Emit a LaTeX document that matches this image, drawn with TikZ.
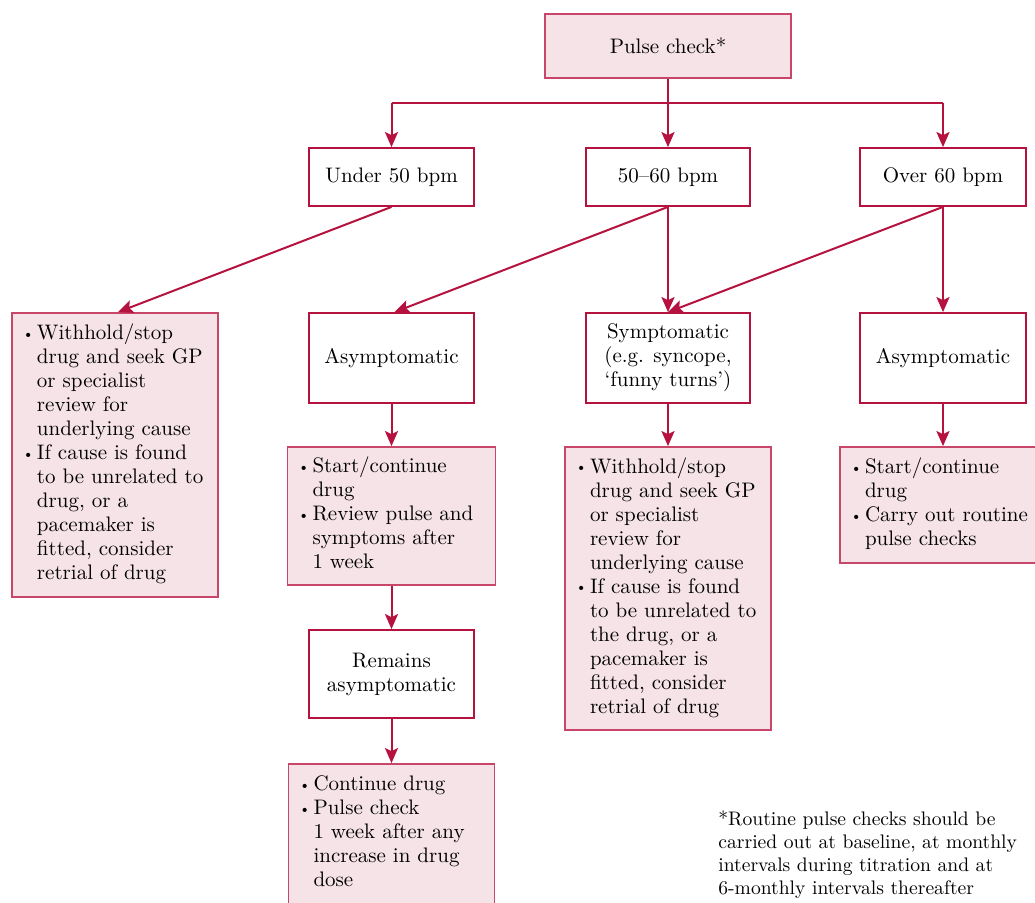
\documentclass[tikz,border=0pt]{standalone}
\usetikzlibrary{arrows.meta,calc}
\definecolor{crim}{RGB}{181,18,63}
\definecolor{pinkedge}{RGB}{200,70,105}
\definecolor{pinkfill}{RGB}{246,227,232}
\newcommand{\bul}{\raisebox{0.15ex}{\scriptsize\textbullet}}
\tikzset{
  every node/.style={font=\fontsize{10.5}{12}\selectfont},
  plainbox/.style={draw=crim, fill=white, line width=0.9pt, align=center, inner sep=0pt},
  pinkbox/.style={draw=pinkedge, fill=pinkfill, line width=0.9pt, align=center, inner sep=0pt},
  listbox/.style={draw=pinkedge, fill=pinkfill, line width=0.9pt, align=left, inner xsep=5pt, inner ysep=0pt},
  conn/.style={draw=crim, line width=1pt},
  arr/.style={conn, -{Stealth[length=7.5pt,width=6.5pt,inset=1.5pt]}},
}
\begin{document}
\begin{tikzpicture}[x=0.5pt,y=-0.5pt]
\useasboundingbox (0,0) rectangle (1035,902);
\clip (0,0) rectangle (1035,902);
% top
\node[pinkbox, minimum width=123pt, minimum height=32pt] (pulse) at (668,46) {Pulse check*};
\node[plainbox, minimum width=82.5pt, minimum height=29pt] (u50) at (391.5,177) {Under 50 bpm};
\node[plainbox, minimum width=82pt, minimum height=29pt] (m56) at (668,177) {50--60 bpm};
\node[plainbox, minimum width=83pt, minimum height=29pt] (o60) at (943,177) {Over 60 bpm};
% second row
\node[listbox, text width=93pt, minimum height=142pt] (leftb) at (115,455) {%
\begin{tabular}{@{}p{7.5pt}@{}l@{}}
\bul & Withhold/stop\\
 & drug and seek GP\\
 & or specialist\\
 & review for\\
 & underlying cause\\
\bul & If cause is found\\
 & to be unrelated to\\
 & drug, or a\\
 & pacemaker is\\
 & fitted, consider\\
 & retrial of drug
\end{tabular}};
\node[plainbox, minimum width=82.5pt, minimum height=45pt] (asym1) at (391.5,358) {Asymptomatic};
\node[plainbox, minimum width=82pt, minimum height=45pt] (symp) at (668,358) {Symptomatic\\(e.g. syncope,\\`funny turns')};
\node[plainbox, minimum width=83pt, minimum height=45pt] (asym2) at (943,358) {Asymptomatic};
% third row
\node[listbox, text width=94pt, minimum height=69pt] (start1) at (391.5,516) {%
\begin{tabular}{@{}p{7.5pt}@{}l@{}}
\bul & Start/continue\\
 & drug\\
\bul & Review pulse and\\
 & symptoms after\\
 & 1 week
\end{tabular}};
\node[listbox, text width=93pt, minimum height=141.5pt] (sympb) at (668,588.5) {%
\begin{tabular}{@{}p{7.5pt}@{}l@{}}
\bul & Withhold/stop\\
 & drug and seek GP\\
 & or specialist\\
 & review for\\
 & underlying cause\\
\bul & If cause is found\\
 & to be unrelated to\\
 & the drug, or a\\
 & pacemaker is\\
 & fitted, consider\\
 & retrial of drug
\end{tabular}};
\node[listbox, text width=93pt, minimum height=58pt] (rightb) at (943,505) {%
\begin{tabular}{@{}p{7.5pt}@{}l@{}}
\bul & Start/continue\\
 & drug\\
\bul & Carry out routine\\
 & pulse checks
\end{tabular}};
\node[plainbox, minimum width=82.5pt, minimum height=44pt] (remains) at (391.5,674) {Remains\\asymptomatic};
\node[listbox, text width=93pt, minimum height=70pt] (cont) at (391.5,834) {%
\begin{tabular}{@{}p{7.5pt}@{}l@{}}
\bul & Continue drug\\
\bul & Pulse check\\
 & 1 week after any\\
 & increase in drug\\
 & dose
\end{tabular}};
\node[anchor=north west, align=left, inner sep=0pt, font=\fontsize{9.8}{11.6}\selectfont] (foot) at (718,810) {*Routine pulse checks should be\\carried out at baseline, at monthly\\intervals during titration and at\\6-monthly intervals thereafter};
% connectors
\coordinate (jL) at (391.5,103);
\coordinate (jM) at (668,103);
\coordinate (jR) at (943,103);
\draw[conn] (pulse.south) -- (jM);
\draw[conn] (jL) -- (jR);
\draw[arr] (jL) -- (u50.north);
\draw[arr] (jM) -- (m56.north);
\draw[arr] (jR) -- (o60.north);
\draw[arr] (u50.south) -- ($(leftb.north)+(3,0)$);
\draw[arr] (m56.south) -- ($(asym1.north)+(3,0)$);
\draw[arr] (m56.south) -- (symp.north);
\draw[arr] (o60.south) -- (symp.north);
\draw[arr] (o60.south) -- (asym2.north);
\draw[arr] (asym1.south) -- (start1.north);
\draw[arr] (start1.south) -- (remains.north);
\draw[arr] (remains.south) -- (cont.north);
\draw[arr] (symp.south) -- (sympb.north);
\draw[arr] (asym2.south) -- (rightb.north);
\end{tikzpicture}
\end{document}
